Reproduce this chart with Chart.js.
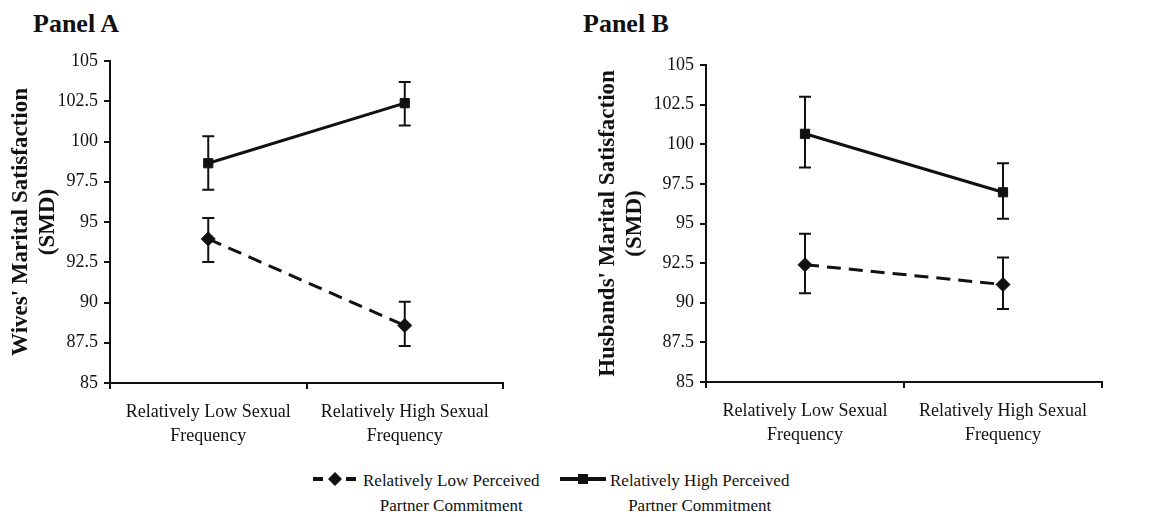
<!DOCTYPE html>
<html>
<head>
<meta charset="utf-8">
<script src="https://cdn.jsdelivr.net/npm/chart.js@4.4.0/dist/chart.umd.min.js"></script>
<style>
  body { margin: 0; background: #fff; }
  #wrap { position: relative; width: 1153px; height: 517px; overflow: hidden;
          font-family: "Liberation Serif", "Times New Roman", serif; color: #111; }
  canvas { position: absolute; top: 0; }
  .panel { position: absolute; font-weight: bold; font-size: 26px; line-height: 26px; white-space: nowrap; }
  .leg { position: absolute; font-size: 17px; line-height: 25px; text-align: center; white-space: nowrap; }
  svg { position: absolute; }
</style>
</head>
<body>
<div id="wrap">
  <div class="panel" id="titleA" style="left:33px;top:11px"></div>
  <div class="panel" id="titleB" style="left:583px;top:11px"></div>
  <canvas id="panelA" width="576" height="460" style="left:0"></canvas>
  <canvas id="panelB" width="577" height="460" style="left:576px"></canvas>

  <svg style="left:311px;top:469px" width="48" height="20">
    <line x1="2" y1="10" x2="12" y2="10" stroke="#111" stroke-width="4"/>
    <line x1="35" y1="10" x2="45" y2="10" stroke="#111" stroke-width="4"/>
    <polygon points="24,3 31,10 24,17 17,10" fill="#111"/>
  </svg>
  <div class="leg" id="legLow" style="left:363px;top:468px"></div>

  <svg style="left:558px;top:469px" width="50" height="20">
    <line x1="2" y1="10" x2="48" y2="10" stroke="#111" stroke-width="4"/>
    <rect x="20" y="5" width="10" height="10" fill="#111"/>
  </svg>
  <div class="leg" id="legHigh" style="left:610px;top:468px"></div>
</div>

<script>
const panelTitles = ['Panel A', 'Panel B'];
const categories = [['Relatively Low Sexual', 'Frequency'], ['Relatively High Sexual', 'Frequency']];
const yTickValues = [85, 87.5, 90, 92.5, 95, 97.5, 100, 102.5, 105];
const seriesNames = [['Relatively Low Perceived', 'Partner Commitment'], ['Relatively High Perceived', 'Partner Commitment']];

// panel A - wives
const wivesTitle = ["Wives' Marital Satisfaction", '(SMD)'];
const wivesLow = [93.95, 88.57];
const wivesLowErrLo = [92.52, 87.3];
const wivesLowErrHi = [95.25, 90.05];
const wivesHigh = [98.65, 102.38];
const wivesHighErrLo = [97.0, 101.0];
const wivesHighErrHi = [100.33, 103.69];

// panel B - husbands
const husbandsTitle = ["Husbands' Marital Satisfaction", '(SMD)'];
const husbandsLow = [92.4, 91.15];
const husbandsLowErrLo = [90.6, 89.6];
const husbandsLowErrHi = [94.35, 92.85];
const husbandsHigh = [100.66, 96.97];
const husbandsHighErrLo = [98.53, 95.3];
const husbandsHighErrHi = [103.0, 98.8];

const FONT = '"Liberation Serif", "Times New Roman", serif';
const INK = '#111';

document.getElementById('titleA').textContent = panelTitles[0];
document.getElementById('titleB').textContent = panelTitles[1];
document.getElementById('legLow').innerHTML = seriesNames[0].join('<br>');
document.getElementById('legHigh').innerHTML = seriesNames[1].join('<br>');

// error bars drawn under the lines and markers
const errorBars = {
  id: 'errorBars',
  beforeDatasetsDraw(chart) {
    const ctx = chart.ctx;
    const y = chart.scales.y;
    chart.data.datasets.forEach((ds, di) => {
      chart.getDatasetMeta(di).data.forEach((pt, i) => {
        const top = y.getPixelForValue(ds.errHi[i]);
        const bot = y.getPixelForValue(ds.errLo[i]);
        ctx.save();
        ctx.strokeStyle = INK;
        ctx.lineWidth = 2;
        ctx.beginPath();
        ctx.moveTo(pt.x, top); ctx.lineTo(pt.x, bot);
        ctx.moveTo(pt.x - 6, top); ctx.lineTo(pt.x + 6, top);
        ctx.moveTo(pt.x - 6, bot); ctx.lineTo(pt.x + 6, bot);
        ctx.stroke();
        ctx.restore();
      });
    });
  }
};

function makePanel(id, yTitle, low, lowLo, lowHi, high, highLo, highHi, box) {
  return new Chart(document.getElementById(id), {
    type: 'line',
    data: {
      labels: categories,
      datasets: [
        {
          data: low, errLo: lowLo, errHi: lowHi,
          borderColor: INK, backgroundColor: INK, borderWidth: 3, borderDash: [14, 8],
          pointStyle: 'rectRot', pointRadius: 7, pointBorderWidth: 1, tension: 0
        },
        {
          data: high, errLo: highLo, errHi: highHi,
          borderColor: INK, backgroundColor: INK, borderWidth: 3,
          pointStyle: 'rect', pointRadius: 6.5, pointBorderWidth: 1, tension: 0
        }
      ]
    },
    options: {
      responsive: false,
      animation: false,
      devicePixelRatio: 1,
      layout: { padding: { top: box.top, right: box.right, left: 0, bottom: 0 } },
      plugins: { legend: { display: false }, tooltip: { enabled: false } },
      scales: {
        x: {
          type: 'category',
          offset: true,
          grid: { offset: true, drawOnChartArea: false, tickLength: 6, color: INK, lineWidth: 2 },
          border: { color: INK, width: 2 },
          ticks: { color: INK, font: { family: FONT, size: 18, lineHeight: 1.35 }, padding: 11,
                   maxRotation: 0, autoSkip: false },
          afterFit: s => { s.height = box.xh; }
        },
        y: {
          min: 85,
          max: 105,
          afterBuildTicks: s => { s.ticks = yTickValues.map(v => ({ value: v })); },
          grid: { drawOnChartArea: false, tickLength: 6, color: INK, lineWidth: 2 },
          border: { color: INK, width: 2 },
          ticks: { color: INK, font: { family: FONT, size: 18 }, padding: 6 },
          title: {
            display: true, text: yTitle, color: INK,
            font: { family: FONT, size: 23, weight: 'bold', lineHeight: 27 / 23 },
            padding: { top: box.tp, bottom: 0 }
          },
          afterFit: s => { s.width = box.yw; }
        }
      }
    },
    plugins: [errorBars]
  });
}

makePanel('panelA', wivesTitle, wivesLow, wivesLowErrLo, wivesLowErrHi,
          wivesHigh, wivesHighErrLo, wivesHighErrHi,
          { top: 61, right: 73, xh: 77, yw: 110, tp: 8 });

makePanel('panelB', husbandsTitle, husbandsLow, husbandsLowErrLo, husbandsLowErrHi,
          husbandsHigh, husbandsHighErrLo, husbandsHighErrHi,
          { top: 65, right: 51, xh: 78, yw: 130, tp: 19 });
</script>
</body>
</html>
